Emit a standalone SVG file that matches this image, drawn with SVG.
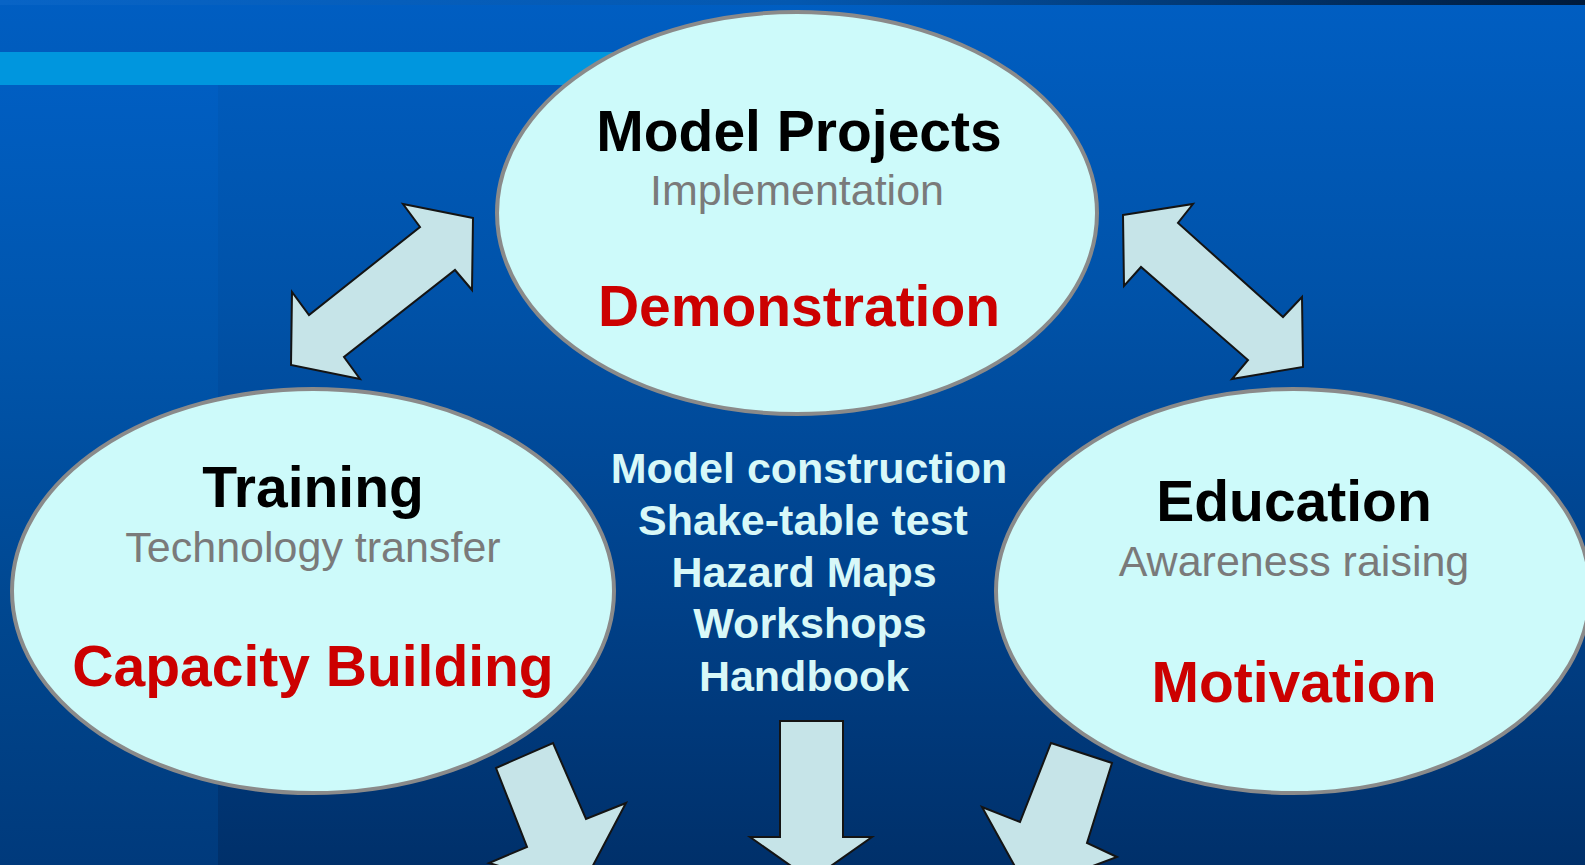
<svg xmlns="http://www.w3.org/2000/svg" width="1585" height="865" viewBox="0 0 1585 865">
<defs>
<linearGradient id="bg" x1="0" y1="0" x2="0" y2="1">
<stop offset="0" stop-color="#005ec2"/>
<stop offset="0.35" stop-color="#0052a8"/>
<stop offset="0.7" stop-color="#004088"/>
<stop offset="1" stop-color="#00306a"/>
</linearGradient>
<linearGradient id="leftbg" x1="0" y1="0" x2="0" y2="1">
<stop offset="0" stop-color="#005ec2"/>
<stop offset="0.35" stop-color="#0054aa"/>
<stop offset="0.7" stop-color="#00468e"/>
<stop offset="1" stop-color="#003a7c"/>
</linearGradient>
<linearGradient id="topstrip" x1="0" y1="0" x2="1" y2="0">
<stop offset="0" stop-color="#0864c6"/>
<stop offset="0.5" stop-color="#0458b0"/>
<stop offset="1" stop-color="#001a3a"/>
</linearGradient>
<style>
.ell{fill:#cdfafa;stroke:#8a8a8a;stroke-width:4}
.arr{fill:#c6e4e8;stroke:#141414;stroke-width:2;stroke-linejoin:miter}
.title{font-family:"Liberation Sans",Arial,sans-serif;font-weight:bold;font-size:57px;fill:#000;text-anchor:middle}
.sub{font-family:"Liberation Sans",Arial,sans-serif;font-size:43px;fill:#7a7a7a;text-anchor:middle}
.key{font-family:"Liberation Sans",Arial,sans-serif;font-weight:bold;font-size:57px;fill:#cc0000;text-anchor:middle}
.mid{font-family:"Liberation Sans",Arial,sans-serif;font-weight:bold;font-size:43px;fill:#d8f8f8;text-anchor:middle}
</style>
</defs>
<g id="background">
<rect x="0" y="0" width="1585" height="865" fill="url(#bg)"/>
<rect x="0" y="85" width="218" height="780" fill="url(#leftbg)"/>
<rect x="0" y="0" width="1585" height="5" fill="url(#topstrip)"/>
<rect x="0" y="52" width="640" height="33" fill="#0096de"/>
</g>
<g id="connectors">
<polygon class="arr" points="473,218 403,204 420,227 309,315 292,292 291,365 360,379 344,357 455,270 472,290"/>
<polygon class="arr" points="1123,215 1193,204 1178,223 1283,317 1302,297 1303,367 1232,379 1248,360 1141,267 1124,286"/>
<polygon class="arr" points="496,768 553,743 586,819 626,803 580,890 489,863 527,847"/>
<polygon class="arr" points="780,721 843,721 843,837 872,837 811,880 750,837 780,837"/>
<polygon class="arr" points="1051,743 1112,763 1087,843 1117,857 1028,890 982,807 1020,822"/>
</g>
<g id="node-model-projects">
<ellipse class="ell" cx="797" cy="213" rx="300" ry="201"/>
<text class="title" x="799" y="151" font-size="58">Model Projects</text>
<text class="sub" x="797" y="205">Implementation</text>
<text class="key" x="799" y="326" font-size="58">Demonstration</text>
</g>
<g id="node-training">
<ellipse class="ell" cx="313" cy="591" rx="301" ry="202"/>
<text class="title" x="313" y="507">Training</text>
<text class="sub" x="313" y="562">Technology transfer</text>
<text class="key" x="313" y="686">Capacity Building</text>
</g>
<g id="node-education">
<ellipse class="ell" cx="1293" cy="591" rx="297" ry="202"/>
<text class="title" x="1294" y="521">Education</text>
<text class="sub" x="1294" y="576">Awareness raising</text>
<text class="key" x="1294" y="702">Motivation</text>
</g>
<g id="activities">
<text class="mid" x="809" y="483">Model construction</text>
<text class="mid" x="803" y="535">Shake-table test</text>
<text class="mid" x="804" y="587">Hazard Maps</text>
<text class="mid" x="810" y="638">Workshops</text>
<text class="mid" x="804" y="691">Handbook</text>
</g>
</svg>
